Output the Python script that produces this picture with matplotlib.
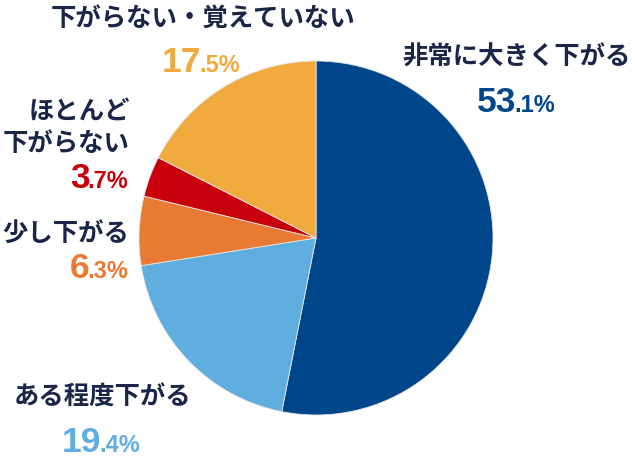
import matplotlib.pyplot as plt

# データ（時計回り、12時から）
labels = ['非常に大きく下がる', 'ある程度下がる', '少し下がる', 'ほとんど\n下がらない', '下がらない・覚えていない']
values = [53.1, 19.4, 6.3, 3.7, 17.5]
colors = ['#00468b', '#60aee0', '#e87a33', '#c8000b', '#f1aa3d']
navy = '#1b2548'

jp_font = ['Noto Sans CJK JP', 'DejaVu Sans']
num_font = ['Liberation Sans', 'DejaVu Sans']

fig = plt.figure(figsize=(6.35, 4.59), dpi=100)
ax = fig.add_axes([0, 0, 1, 1])

# 円グラフ（ピクセル座標系、y軸は下向き）
ax.pie(values, colors=colors, center=(316, 238), radius=177,
       startangle=-90, counterclock=True,
       wedgeprops=dict(edgecolor='#e6e6e6', linewidth=0.6))
ax.set_xlim(0, 635)
ax.set_ylim(459, 0)
ax.set_aspect('auto')
ax.axis('off')


# ラベル描画用
def draw_label(x, y, text, ha='center'):
    ax.text(x, y, text, ha=ha, va='center', fontsize=18.3, fontweight='bold',
            color=navy, family=jp_font, linespacing=1.25)


def draw_pct(x, y, value, color):
    big, small = f'{value:.1f}'.split('.')
    t = ax.text(x, y, big, ha='left', va='baseline', fontsize=25.5, fontweight='bold',
                color=color, family=num_font)
    ax.annotate('.' + small + '%', xy=(1, 0), xycoords=t, xytext=(-1.5, 1.8),
                textcoords='offset points', ha='left', va='bottom', fontsize=17,
                fontweight='bold', color=color, family=num_font)


draw_label(517, 57, labels[0])
draw_pct(477, 112, values[0], colors[0])

draw_label(103, 397, labels[1])
draw_pct(62, 452, values[1], colors[1])

draw_label(129, 233, labels[2], ha='right')
draw_pct(70, 278, values[2], colors[2])

draw_label(130, 127, labels[3], ha='right')
draw_pct(70, 188, values[3], colors[3])

draw_label(203, 18, labels[4])
draw_pct(162, 72, values[4], colors[4])

plt.savefig('out.png', dpi=100)
